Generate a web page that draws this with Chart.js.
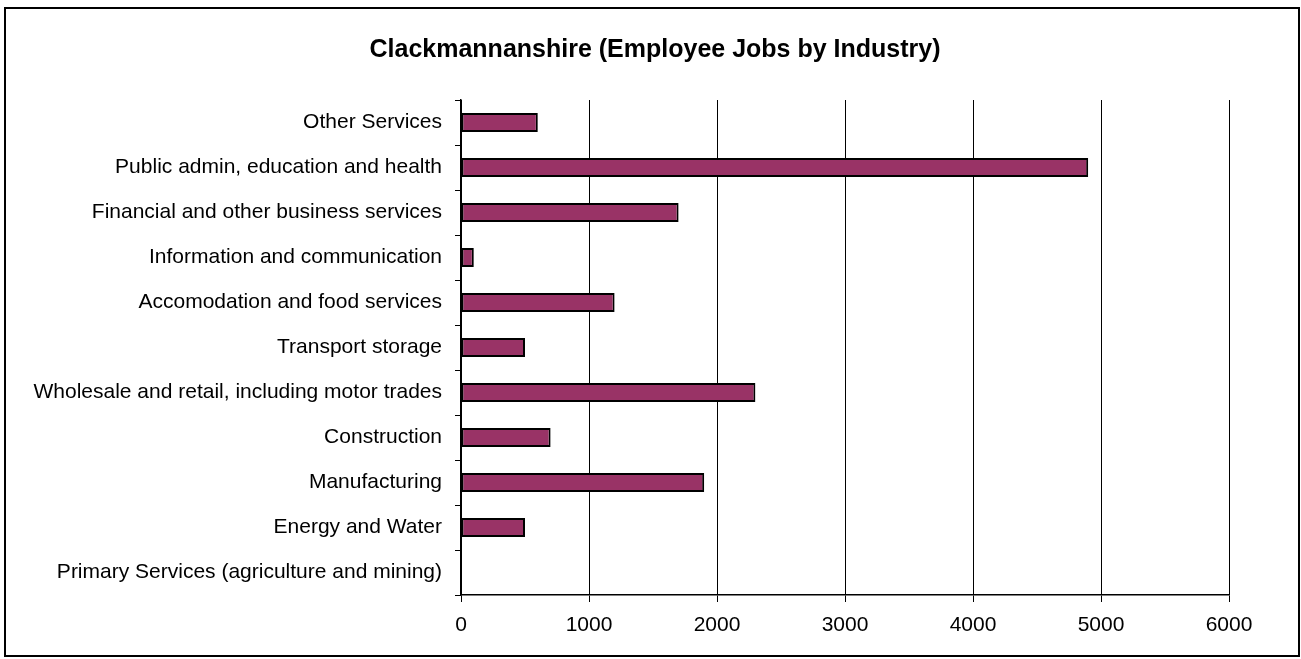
<!DOCTYPE html>
<html>
<head>
<meta charset="utf-8">
<title>Clackmannanshire (Employee Jobs by Industry)</title>
<script src="https://cdn.jsdelivr.net/npm/chart.js@4/dist/chart.umd.min.js"></script>
<style>
  html, body { margin: 0; padding: 0; background: #fff; }
  canvas { display: block; }
</style>
</head>
<body>
<canvas id="chart" width="1301" height="659"></canvas>
<script>
// Industry categories, listed top to bottom
const industries = [
  "Other Services",
  "Public admin, education and health",
  "Financial and other business services",
  "Information and communication",
  "Accomodation and food services",
  "Transport storage",
  "Wholesale and retail, including motor trades",
  "Construction",
  "Manufacturing",
  "Energy and Water",
  "Primary Services (agriculture and mining)"
];

// Employee jobs per industry
const employeeJobs = [600, 4900, 1700, 100, 1200, 500, 2300, 700, 1900, 500, 0];

// Value axis range and step
const axisMin = 0;
const axisMax = 6000;
const axisStep = 1000;

const chartTitle = 'Clackmannanshire (Employee Jobs by Industry)';

const FONT = "'Liberation Sans', Arial, Helvetica, sans-serif";

// Outer frame and the centred title
const framePlugin = {
  id: 'frame',
  afterDraw(chart) {
    const ctx = chart.ctx;
    ctx.save();
    ctx.strokeStyle = '#000';
    ctx.lineWidth = 2;
    ctx.strokeRect(5, 8, 1294, 648);
    ctx.fillStyle = '#000';
    ctx.font = 'bold 25px ' + FONT;
    ctx.textAlign = 'center';
    ctx.textBaseline = 'alphabetic';
    ctx.fillText(chartTitle, 655, 56.5);
    ctx.restore();
  }
};

new Chart(document.getElementById('chart'), {
  type: 'bar',
  data: {
    labels: industries,
    datasets: [{
      label: 'Employee jobs',
      data: employeeJobs,
      backgroundColor: '#993366',
      borderColor: '#000000',
      borderWidth: 2,
      borderSkipped: false,
      categoryPercentage: 1.0,
      barPercentage: 0.42
    }]
  },
  options: {
    indexAxis: 'y',
    responsive: false,
    animation: false,
    layout: { padding: { top: 100, left: 0, right: 72, bottom: 0 } },
    plugins: {
      legend: { display: false },
      tooltip: { enabled: false },
      title: { display: false }
    },
    scales: {
      x: {
        min: axisMin,
        max: axisMax,
        ticks: {
          stepSize: axisStep,
          color: '#000',
          font: { family: FONT, size: 21 },
          padding: 11,
          maxRotation: 0,
          callback: (v) => String(v)
        },
        grid: {
          color: '#000',
          lineWidth: 1,
          drawTicks: true,
          tickLength: 7,
          tickColor: '#000'
        },
        border: { display: true, color: '#000', width: 1.5 },
        afterFit(scale) { scale.height = 64; }
      },
      y: {
        ticks: {
          color: '#000',
          font: { family: FONT, size: 21 },
          padding: 13
        },
        grid: {
          drawOnChartArea: false,
          drawTicks: true,
          tickLength: 6,
          tickColor: '#000',
          offset: true
        },
        border: { display: true, color: '#000', width: 1.5 },
        afterFit(scale) { scale.width = 461; }
      }
    }
  },
  plugins: [framePlugin]
});
</script>
</body>
</html>
